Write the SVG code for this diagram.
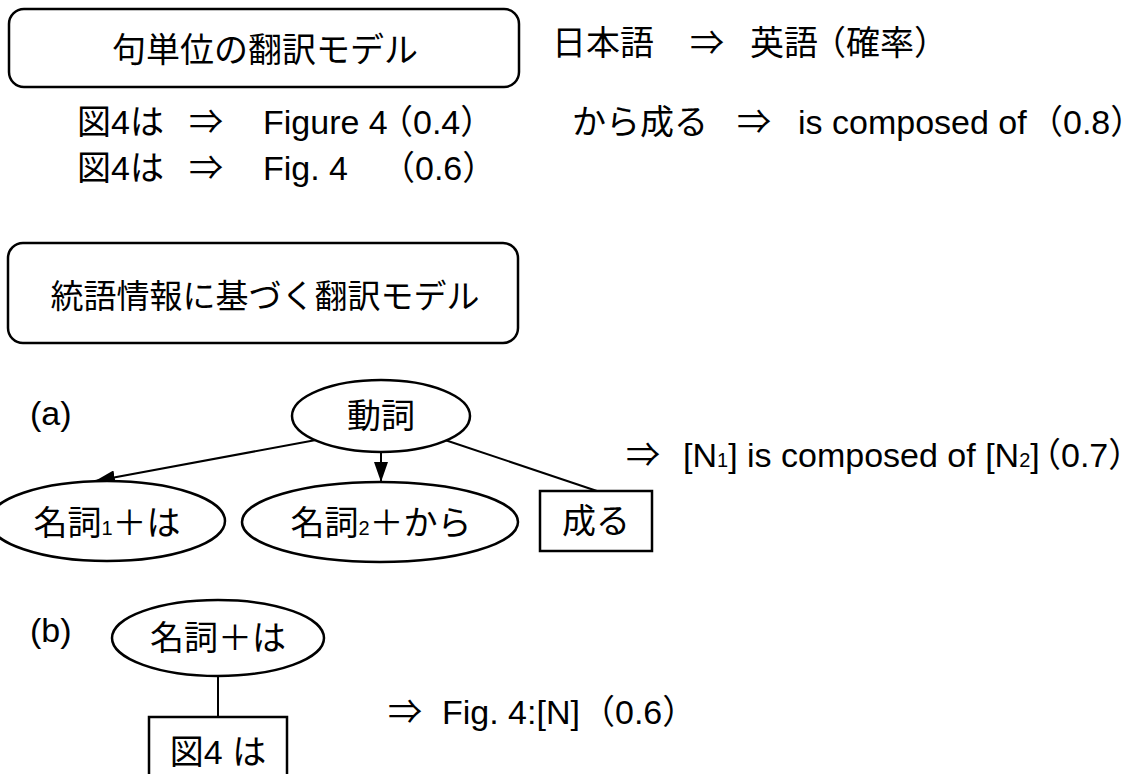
<svg xmlns="http://www.w3.org/2000/svg" width="1132" height="774" viewBox="0 0 1132 774">
<style>
text{font-family:"Liberation Sans","Noto Sans CJK JP",sans-serif;font-size:34px;fill:#000}
.c{text-anchor:middle}
.sub{font-size:20px}
.p{font-feature-settings:"halt"}
.shape{fill:#fff;stroke:#000;stroke-width:2.5}
.edge{fill:none;stroke:#000;stroke-width:2}
</style>
<defs>
<marker id="arr" markerUnits="userSpaceOnUse" markerWidth="22" markerHeight="14" refX="20" refY="7" orient="auto">
<path d="M0,0 L20,7 L0,14 Z" fill="#000"/>
</marker>
</defs>
<rect width="1132" height="774" fill="#fff"/>
<g id="connectors">
<line class="edge" x1="316" y1="440" x2="95" y2="481" marker-end="url(#arr)"/>
<line class="edge" x1="381" y1="452" x2="381" y2="482" marker-end="url(#arr)"/>
<line class="edge" x1="445" y1="440" x2="597" y2="491"/>
<line class="edge" x1="218" y1="676" x2="218" y2="717"/>
</g>
<g id="title1">
<rect class="shape" x="9" y="9" width="510" height="78" rx="15"/>
<text class="c" x="265" y="62">句単位の翻訳モデル</text>
</g>
<g id="header">
<text y="55"><tspan x="552">日本語</tspan><tspan x="690">⇒</tspan><tspan x="750">英語</tspan><tspan x="812">（確率）</tspan></text>
</g>
<g id="rule1">
<text y="134"><tspan x="77">図4は</tspan><tspan x="189">⇒</tspan><tspan x="263">Figure 4</tspan><tspan class="p" x="396">（0.4）</tspan></text>
</g>
<g id="rule2">
<text y="134"><tspan x="572">から成る</tspan><tspan x="737">⇒</tspan><tspan x="798">is composed of</tspan><tspan class="p" x="1046">（0.8）</tspan></text>
</g>
<g id="rule3">
<text y="180"><tspan x="77">図4は</tspan><tspan x="189">⇒</tspan><tspan x="263">Fig. 4</tspan><tspan class="p" x="398">（0.6）</tspan></text>
</g>
<g id="title2">
<rect class="shape" x="8" y="243" width="510" height="100" rx="15"/>
<text class="c" x="265" y="308" style="font-size:33px">統語情報に基づく翻訳モデル</text>
</g>
<g id="label-a"><text x="30" y="425">(a)</text></g>
<g id="verb">
<ellipse class="shape" cx="381" cy="416" rx="89" ry="36"/>
<text class="c" x="381" y="428">動詞</text>
</g>
<g id="noun1">
<ellipse class="shape" cx="107" cy="521" rx="118" ry="40"/>
<text class="c" x="107" y="535">名詞<tspan class="sub">1</tspan>＋は</text>
</g>
<g id="noun2">
<ellipse class="shape" cx="380" cy="522" rx="138" ry="40"/>
<text class="c" x="381" y="535">名詞<tspan class="sub">2</tspan>＋から</text>
</g>
<g id="naru">
<rect class="shape" x="540" y="491" width="112" height="60"/>
<text class="c" x="596" y="533">成る</text>
</g>
<g id="rule-a">
<text y="467"><tspan x="626">⇒</tspan><tspan x="683">[N<tspan class="sub">1</tspan>] is composed of [N<tspan class="sub">2</tspan>]</tspan><tspan class="p" x="1044">（0.7）</tspan></text>
</g>
<g id="label-b"><text x="30" y="642">(b)</text></g>
<g id="noun-ha">
<ellipse class="shape" cx="218" cy="638" rx="106" ry="38"/>
<text class="c" x="218" y="650">名詞＋は</text>
</g>
<g id="fig4">
<rect class="shape" x="149" y="717" width="138" height="70"/>
<text class="c" x="218" y="764">図4 は</text>
</g>
<g id="rule-b">
<text y="724"><tspan x="388">⇒</tspan><tspan x="442">Fig. 4:[N]</tspan><tspan class="p" x="598">（0.6）</tspan></text>
</g>
</svg>
